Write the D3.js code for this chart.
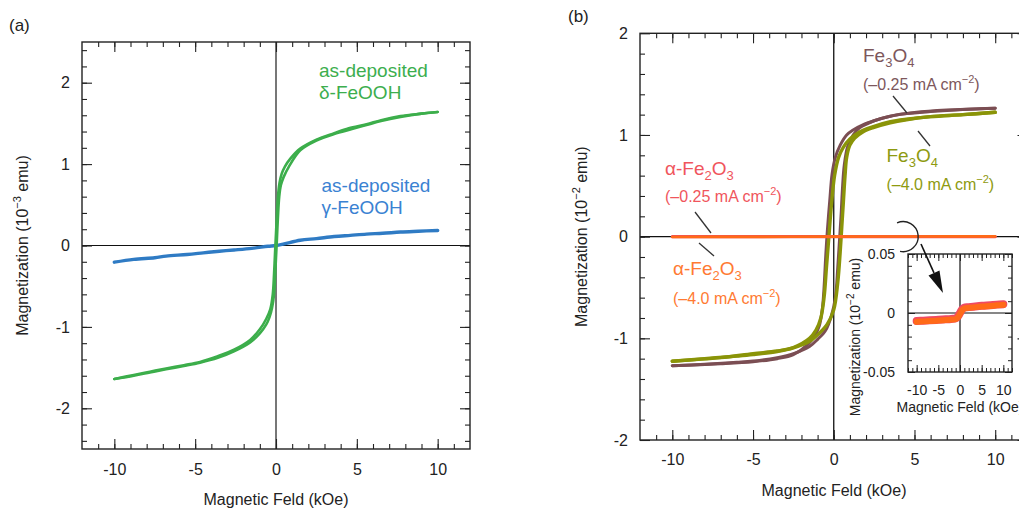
<!DOCTYPE html>
<html><head><meta charset="utf-8">
<script src="https://cdn.jsdelivr.net/npm/d3@7"></script>
<style>
body{margin:0;background:#fff;}
svg{display:block;font-family:"Liberation Sans",Arial,sans-serif;}
</style></head><body>
<svg id="c" width="1019" height="512"></svg>
<script>
// ---------- DATA ----------
// Panel (a): magnetization (10^-3 emu) vs field (kOe)
const deltaDesc = [[10,1.64],[9,1.62],[7.7,1.59],[6.5,1.54],[5.6,1.49],[4.5,1.44],[3.6,1.38],[2.5,1.3],[1.5,1.19],[0.9,1.07],[0.55,0.97],[0.35,0.88],[0.22,0.77],[0.12,0.6],[0.05,0.35],[0,0.15],[-0.05,-0.05],[-0.12,-0.35],[-0.2,-0.6],[-0.35,-0.78],[-0.6,-0.9],[-1.0,-1.03],[-1.6,-1.16],[-2.6,-1.28],[-3.6,-1.36],[-4.7,-1.43],[-5.7,-1.47],[-6.8,-1.51],[-7.8,-1.55],[-8.8,-1.59],[-10,-1.64]];
const deltaAsc = [[-10,-1.64],[-8.8,-1.6],[-7.8,-1.56],[-6.8,-1.52],[-5.7,-1.48],[-4.7,-1.44],[-3.6,-1.38],[-2.6,-1.3],[-1.6,-1.19],[-1.0,-1.08],[-0.6,-0.97],[-0.4,-0.88],[-0.25,-0.77],[-0.12,-0.6],[-0.05,-0.35],[0,-0.15],[0.05,0.05],[0.12,0.35],[0.2,0.6],[0.3,0.74],[0.47,0.84],[0.8,0.97],[1.5,1.17],[2.5,1.29],[3.6,1.37],[4.7,1.43],[5.6,1.48],[6.5,1.53],[7.7,1.58],[9,1.62],[10,1.64]];
const gammaCurve = [[-10,-0.205],[-8.8,-0.17],[-7.5,-0.15],[-6.8,-0.13],[-5.5,-0.11],[-4.5,-0.09],[-3.5,-0.07],[-2.6,-0.055],[-1.5,-0.035],[-0.5,-0.01],[0,0],[0.5,0.02],[1.5,0.065],[2.5,0.085],[3.6,0.11],[4.6,0.125],[5.6,0.14],[6.6,0.15],[7.7,0.165],[8.8,0.175],[10,0.185]];

// Panel (b): magnetization (10^-2 emu) vs field (kOe)
const fe3o4LowDesc = [[10,1.263],[8,1.25],[6,1.23],[4.5,1.21],[3.5,1.185],[2.5,1.14],[1.8,1.1],[1.2,1.05],[0.8,1.0],[0.4,0.9],[0.1,0.78],[-0.1,0.62],[-0.25,0.35],[-0.4,0.05],[-0.5,-0.2],[-0.6,-0.5],[-0.7,-0.7],[-0.9,-0.88],[-1.2,-0.98],[-1.6,-1.06],[-2.5,-1.16],[-3.5,-1.2],[-5,-1.23],[-7,-1.25],[-10,-1.27]];
const fe3o4LowAsc = [[-10,-1.27],[-8,-1.255],[-6,-1.235],[-4.5,-1.215],[-3.5,-1.19],[-2.5,-1.15],[-1.5,-1.08],[-1,-1.01],[-0.5,-0.92],[-0.15,-0.78],[0.1,-0.6],[0.25,-0.3],[0.35,-0.05],[0.45,0.2],[0.55,0.5],[0.65,0.7],[0.85,0.88],[1.2,1.0],[1.6,1.07],[2.5,1.14],[3.5,1.185],[5,1.22],[7,1.245],[10,1.263]];
const fe3o4HighDesc = [[10,1.223],[8,1.2],[6,1.18],[4.5,1.155],[3.5,1.13],[2.4,1.08],[1.6,1.03],[1.0,0.96],[0.6,0.88],[0.3,0.78],[0.05,0.6],[-0.15,0.3],[-0.3,0.0],[-0.45,-0.3],[-0.6,-0.6],[-0.8,-0.8],[-1.1,-0.92],[-1.5,-1.0],[-2.5,-1.09],[-3.5,-1.125],[-5,-1.15],[-7,-1.19],[-10,-1.225]];
const fe3o4HighAsc = [[-10,-1.225],[-8,-1.2],[-6,-1.175],[-5,-1.16],[-3.5,-1.13],[-2.5,-1.095],[-1.5,-1.03],[-0.9,-0.95],[-0.4,-0.86],[0,-0.72],[0.25,-0.45],[0.4,-0.15],[0.5,0.1],[0.6,0.35],[0.7,0.6],[0.8,0.78],[1.0,0.9],[1.3,0.97],[1.8,1.03],[2.4,1.07],[3.5,1.12],[4.5,1.15],[6,1.18],[8,1.2],[10,1.223]];
const fe2o3Low = [[-10,0.0],[-5,0.0],[0,0.0],[5,0.0],[10,0.0]];
const fe2o3High = [[-10,-0.003],[-5,-0.002],[0,0.0],[5,0.002],[10,0.003]];
// Inset (10^-2 emu)
const fe2o3Inset = [[-10,-0.0068],[-8.5,-0.0065],[-7,-0.0062],[-5.5,-0.0059],[-4,-0.0055],[-2,-0.005],[-1,-0.0045],[-0.5,-0.003],[0,0],[0.5,0.003],[1,0.0045],[2,0.005],[4,0.0058],[5.5,0.0062],[7,0.0066],[8.5,0.0071],[10,0.0075]];

const xTicksMain = [-10,-5,0,5,10];
const yTicksA = [-2,-1,0,1,2];
const yTicksB = [-2,-1,0,1,2];
const yTicksInset = [-0.05,0,0.05];

// ---------- DRAW ----------
const svg = d3.select("#c");
const FRAME = "#222";

function frame(g, x, y, o){
  const [x0,x1]=x.range(), [y1,y0]=y.range();
  const fmt = d=>String(d);
  // minor ticks (all sides)
  const mk = (axisFn, scale, vals, size, tx, ty)=>{
    const a = axisFn(scale).tickValues(vals).tickSize(size).tickFormat("");
    const gg = g.append("g").attr("transform",`translate(${tx},${ty})`).call(a);
    gg.select(".domain").remove();
    gg.selectAll("line").attr("stroke",FRAME).attr("stroke-width",o.tw);
    return gg;
  };
  mk(d3.axisBottom,x,o.xMinor,-o.minor,0,y1);
  mk(d3.axisTop,x,o.xMinor,-o.minor,0,y0);
  mk(d3.axisLeft,y,o.yMinor,-o.minor,x0,0);
  mk(d3.axisRight,y,o.yMinor,-o.minor,x1,0);
  mk(d3.axisTop,x,o.xMajor,-o.major,0,y0);
  mk(d3.axisRight,y,o.yMajor,-o.major,x1,0);
  // labelled axes
  const bx = g.append("g").attr("transform",`translate(0,${y1})`)
    .call(d3.axisBottom(x).tickValues(o.xMajor).tickSize(-o.major).tickPadding(o.padX).tickFormat(fmt));
  const ly = g.append("g").attr("transform",`translate(${x0},0)`)
    .call(d3.axisLeft(y).tickValues(o.yMajor).tickSize(-o.major).tickPadding(o.padY).tickFormat(o.yFmt||fmt));
  [bx,ly].forEach(a=>{
    a.select(".domain").remove();
    a.selectAll("line").attr("stroke",FRAME).attr("stroke-width",o.tw);
    a.selectAll("text").attr("fill","#222").style("font-size",o.fs+"px")
      .style("font-family",'"Liberation Sans",Arial,sans-serif');
  });
  g.append("rect").attr("x",x0).attr("y",y0).attr("width",x1-x0).attr("height",y1-y0)
    .attr("fill","none").attr("stroke",FRAME).attr("stroke-width",o.fw);
}

function zeroLines(g,x,y,col,w){
  g.append("line").attr("x1",x(0)).attr("x2",x(0)).attr("y1",y.range()[0]).attr("y2",y.range()[1])
    .attr("stroke",col).attr("stroke-width",w);
  g.append("line").attr("x1",x.range()[0]).attr("x2",x.range()[1]).attr("y1",y(0)).attr("y2",y(0))
    .attr("stroke","#111").attr("stroke-width",1.2);
}

function curve(g,x,y,data,col,w){
  g.append("path").datum(data)
    .attr("d",d3.line().x(d=>x(d[0])).y(d=>y(d[1])).curve(d3.curveMonotoneX.bind ? d3.curveCatmullRom.alpha(0.5) : d3.curveLinear))
    .attr("fill","none").attr("stroke",col).attr("stroke-width",w)
    .attr("stroke-linejoin","round").attr("stroke-linecap","round");
}

function rich(g,x,y,parts,fs,col,anchor){
  const t = g.append("text").attr("x",x).attr("y",y).attr("fill",col)
    .style("font-size",fs+"px").attr("text-anchor",anchor||"start");
  let cur=0;
  parts.forEach(p=>{
    const s = typeof p==="string" ? {t:p,shift:0} : p;
    const ts = t.append("tspan").text(s.t);
    const shift = s.shift||0;
    if(shift!==cur){ ts.attr("dy",shift-cur); cur=shift; }
    if(s.fs) ts.style("font-size",s.fs+"px");
  });
  return t;
}

// ===== Panel (a) =====
const xa = d3.scaleLinear([-12,12],[82,470]);
const ya = d3.scaleLinear([-2.5,2.5],[449,42]);
const ga = svg.append("g");
ga.append("text").attr("x",9).attr("y",31).text("(a)").style("font-size","17px").attr("fill","#222");

zeroLines(ga,xa,ya,"#555",1.6);
curve(ga,xa,ya,gammaCurve,"#2f7bc4",3.4);
curve(ga,xa,ya,deltaAsc,"#3cae4b",2.6);
curve(ga,xa,ya,deltaDesc,"#3cae4b",2.6);

frame(ga,xa,ya,{xMajor:xTicksMain,xMinor:d3.range(-11,12,1),yMajor:yTicksA,yMinor:d3.range(-2.4,2.41,0.2).map(v=>+v.toFixed(1)),
  major:10,minor:5,tw:1.1,fw:1.4,padX:14.5,padY:12,fs:16});

rich(ga,276,505,["Magnetic Feld (kOe)"],16,"#222","middle");
rich(ga,0,0,["Magnetization (10",{t:"−3",shift:-7,fs:11},{t:" emu)",shift:0}],16,"#222","middle")
  .attr("transform",`translate(28,${(ya.range()[0]+ya.range()[1])/2}) rotate(-90)`);

rich(ga,319,77,["as-deposited"],19,"#3cae4e");
rich(ga,319,99,["δ-FeOOH"],19,"#3cae4e");
rich(ga,321.5,192,["as-deposited"],19,"#3a82d2");
rich(ga,321.5,214,["γ-FeOOH"],19,"#3a82d2");

// ===== Panel (b) =====
const xb = d3.scaleLinear([-12,12],[640,1027.5]);
const yb = d3.scaleLinear([-2,2],[440,33.3]);
const gb = svg.append("g");
gb.append("text").attr("x",568).attr("y",22).text("(b)").style("font-size","17px").attr("fill","#222");

zeroLines(gb,xb,yb,"#111",1.3);
curve(gb,xb,yb,fe3o4LowDesc,"#7b4e53",3);
curve(gb,xb,yb,fe3o4LowAsc,"#7b4e53",3);
curve(gb,xb,yb,fe3o4HighDesc,"#8a9408",3.4);
curve(gb,xb,yb,fe3o4HighAsc,"#8a9408",3.4);
curve(gb,xb,yb,fe2o3Low,"#f0505e",3.2);
curve(gb,xb,yb,fe2o3High,"#ff6a18",2.6);

frame(gb,xb,yb,{xMajor:xTicksMain,xMinor:d3.range(-11,12,1),yMajor:yTicksB,yMinor:d3.range(-1.8,1.81,0.2).map(v=>+v.toFixed(1)),
  major:10,minor:5,tw:1.1,fw:1.4,padX:13.6,padY:12,fs:16});

rich(gb,834,496,["Magnetic Feld (kOe)"],16,"#222","middle");
rich(gb,0,0,["Magnetization (10",{t:"−2",shift:-7,fs:11},{t:" emu)",shift:0}],16,"#222","middle")
  .attr("transform",`translate(587,${(yb.range()[0]+yb.range()[1])/2}) rotate(-90)`);

// annotations
const lead = (x1,y1,x2,y2)=>gb.append("line").attr("x1",x1).attr("y1",y1).attr("x2",x2).attr("y2",y2)
  .attr("stroke","#333").attr("stroke-width",1.3);
const brown="#7d575c", olive="#8e9a10", red="#f0555c", orange="#ff7a32";
rich(gb,863,62,["Fe",{t:"3",shift:5,fs:13},{t:"O",shift:0},{t:"4",shift:5,fs:13}],19,brown);
rich(gb,863,90,["(–0.25 mA cm",{t:"−2",shift:-7,fs:11},{t:")",shift:0}],16,brown);
lead(893,96,907,113);
rich(gb,886.5,162,["Fe",{t:"3",shift:5,fs:13},{t:"O",shift:0},{t:"4",shift:5,fs:13}],19,olive);
rich(gb,886.5,190,["(–4.0 mA cm",{t:"−2",shift:-7,fs:11},{t:")",shift:0}],16,olive);
lead(918,131,930,146);
rich(gb,665,175,["α-Fe",{t:"2",shift:5,fs:13},{t:"O",shift:0},{t:"3",shift:5,fs:13}],19,red);
rich(gb,665,202,["(–0.25 mA cm",{t:"−2",shift:-7,fs:11},{t:")",shift:0}],16,red);
lead(695,212,711,233);
rich(gb,673,275,["α-Fe",{t:"2",shift:5,fs:13},{t:"O",shift:0},{t:"3",shift:5,fs:13}],19,orange);
rich(gb,673,304,["(–4.0 mA cm",{t:"−2",shift:-7,fs:11},{t:")",shift:0}],16,orange);
lead(699,243,714,256);

// bracket arc + arrow
const arcC = [xb(4.3), yb(0)];
gb.append("path").attr("transform",`translate(${arcC[0]},${arcC[1]})`)
  .attr("d",d3.arc()({innerRadius:15,outerRadius:15,startAngle:-24*Math.PI/180,endAngle:192*Math.PI/180}))
  .attr("fill","none").attr("stroke","#222").attr("stroke-width",1.4);

// ===== Inset =====
const xi = d3.scaleLinear([-12,12],[908,1012]);
const yi = d3.scaleLinear([-0.05,0.05],[372,254]);
const gi = svg.append("g");
gi.append("rect").attr("x",908).attr("y",254).attr("width",104).attr("height",118).attr("fill","#fff");
zeroLines(gi,xi,yi,"#111",1.2);
curve(gi,xi,yi,fe2o3Inset,"#f04a62",8);
curve(gi,xi,yi,fe2o3Inset.map(d=>[d[0],d[1]-0.0006]),"#ff6a18",6);
frame(gi,xi,yi,{xMajor:xTicksMain,xMinor:d3.range(-12,13,1),yMajor:yTicksInset,yMinor:d3.range(-0.04,0.041,0.01).map(v=>+v.toFixed(2)),
  major:7,minor:4,tw:1,fw:1.4,padX:13,padY:13,fs:14});
rich(gi,960,412,["Magnetic Feld (kOe)"],14,"#222","middle");
rich(gi,0,0,["Magnetization (10",{t:"−2",shift:-6,fs:10},{t:" emu)",shift:0}],14,"#222","middle")
  .attr("transform",`translate(860,337) rotate(-90)`);

// arrow
const A=[921,244], T=[943,293];
const dx=T[0]-A[0], dy=T[1]-A[1], L=Math.hypot(dx,dy), ux=dx/L, uy=dy/L;
const bc=[T[0]-22*ux, T[1]-22*uy];
gb.append("line").attr("x1",A[0]).attr("y1",A[1]).attr("x2",bc[0]).attr("y2",bc[1]).attr("stroke","#111").attr("stroke-width",1.6);
gb.append("path").attr("d",`M${T[0]},${T[1]}L${bc[0]-6*uy},${bc[1]+6*ux}L${bc[0]+6*uy},${bc[1]-6*ux}Z`).attr("fill","#111");
svg.node().appendChild(gb.node()); // keep arrow on top
</script>
</body></html>
